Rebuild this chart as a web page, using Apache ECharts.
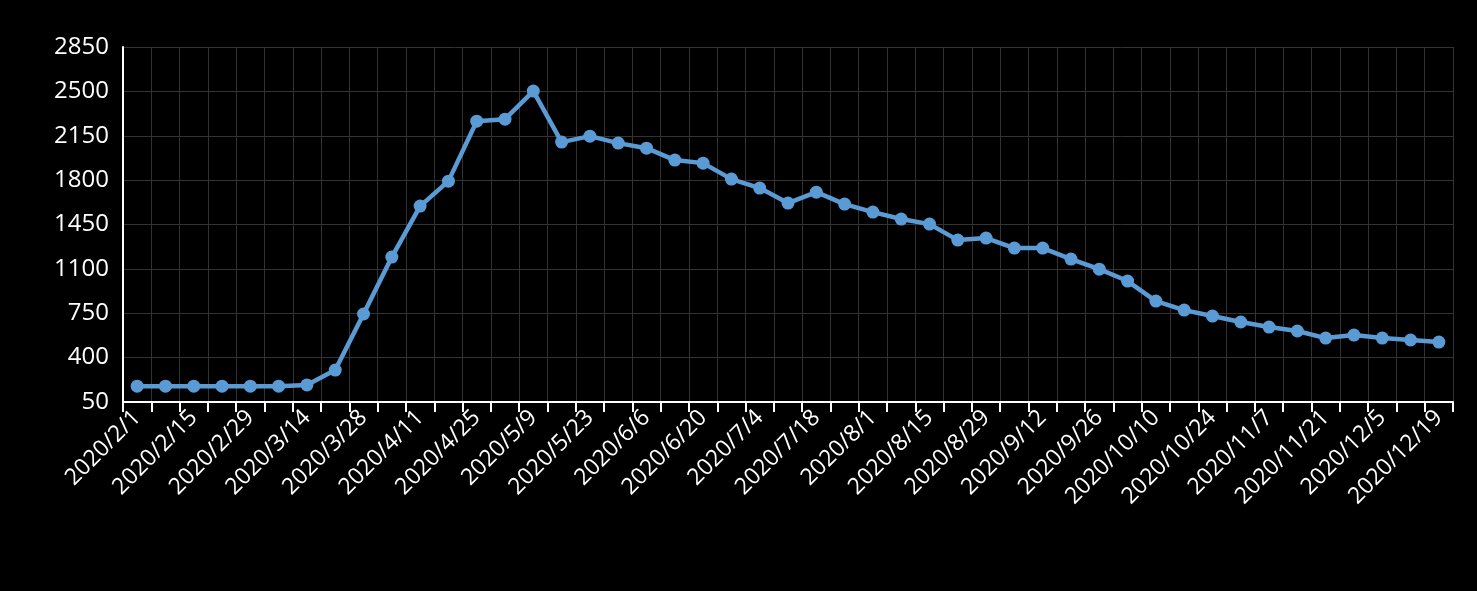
<!DOCTYPE html>
<html>
<head>
<meta charset="utf-8">
<title>chart</title>
<script src="https://cdn.jsdelivr.net/npm/echarts@6/dist/echarts.min.js"></script>
<style>html,body{margin:0;padding:0;background:#000;}</style>
</head>
<body>
<div id="main" style="width:1477px;height:591px;"></div>
<script>
// weekly dates from 2020/2/1
var dates = [];
var d0 = new Date(2020, 1, 1);
for (var i = 0; i < 47; i++) {
	var d = new Date(d0.getTime() + i * 7 * 86400000);
	dates.push(d.getFullYear() + '/' + (d.getMonth() + 1) + '/' + d.getDate());
}
var values = [175, 175, 175, 175, 175, 175, 185, 302, 744, 1193, 1595, 1792, 2265, 2281, 2502,
	2100, 2147, 2092, 2052, 1958, 1934, 1808, 1737, 1619, 1705, 1611, 1548, 1493, 1453, 1327,
	1343, 1264, 1264, 1177, 1098, 1004, 846, 775, 728, 681, 641, 610, 554, 578, 554, 539, 523];

var myChart = echarts.init(document.getElementById('main'));
var font = 'Open Sans';
option = {
	backgroundColor: '#000',
	grid: { left: 123, right: 24, top: 47, bottom: 189 },
	xAxis: {
		type: 'category',
		data: dates,
		boundaryGap: true,
		axisLine: { lineStyle: { color: '#fff', width: 2 } },
		axisTick: { show: true, interval: 0, length: 10, lineStyle: { color: '#fff', width: 2 } },
		splitLine: { show: true, interval: 0, lineStyle: { color: '#333' } },
		axisLabel: { color: '#fff', fontSize: 23, fontFamily: font, rotate: 45, interval: 1, margin: 12 }
	},
	yAxis: {
		type: 'value',
		min: 50, max: 2850, interval: 350,
		axisLine: { show: true, lineStyle: { color: '#fff', width: 2 } },
		splitLine: { lineStyle: { color: '#333' } },
		axisLabel: { color: '#fff', fontSize: 24, fontFamily: font, margin: 14,
			formatter: function (v) { return String(v); } }
	},
	series: [{
		type: 'line',
		data: values,
		symbol: 'circle',
		symbolSize: 13,
		itemStyle: { color: '#5b9bd5' },
		lineStyle: { color: '#5b9bd5', width: 4.5 }
	}]
};
myChart.setOption(option);
</script>
</body>
</html>
